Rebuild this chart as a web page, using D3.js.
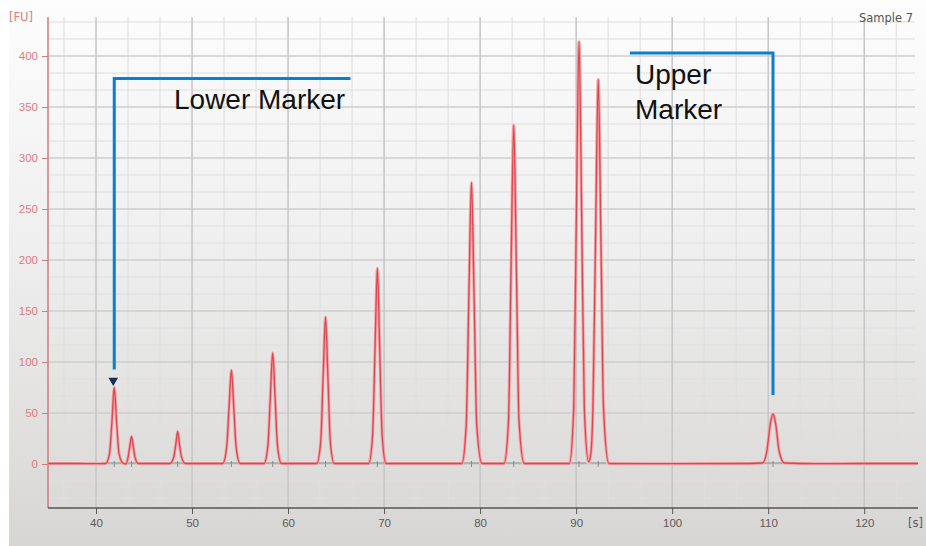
<!DOCTYPE html>
<html>
<head>
<meta charset="utf-8">
<script src="https://cdn.jsdelivr.net/npm/d3@7"></script>
<style>
  body { margin: 0; background: #fff; }
  svg { display: block; }
</style>
</head>
<body>
<div id="chart"></div>
<script>
// peaks: migration time [s] and height [FU]
const peakTimes   = [41.9, 43.7, 48.5, 54.1, 58.4, 63.9, 69.3, 79.1, 83.5, 90.3, 92.3, 110.5];
const peakHeights = [75, 27, 32, 92, 109, 144, 192, 276, 332, 414, 377, 49];

// electropherogram trace as [time, FU] points
const trace = [
  [35, 0.5], [38, 0.5], [40, 0.3], [41.0, 0.5],
  [41.4, 10], [41.65, 40], [41.9, 75], [42.15, 40], [42.4, 10], [42.8, 1],
  [43.1, 0], [43.35, 7], [43.53, 18], [43.7, 27], [43.87, 18], [44.05, 7], [44.4, 0.5],
  [46, 0.5], [47.7, 0.5], [48.1, 7], [48.32, 20], [48.5, 32], [48.68, 20], [48.9, 7], [49.3, 0.5],
  [53.2, 0.5], [53.6, 16], [53.85, 55], [54.1, 92], [54.35, 55], [54.6, 16], [55.0, 0.5],
  [57.5, 0.5], [57.9, 18], [58.15, 65], [58.4, 109], [58.65, 65], [58.9, 18], [59.3, 0.5],
  [63.0, 0.5], [63.4, 22], [63.65, 85], [63.9, 144], [64.15, 85], [64.4, 22], [64.8, 0.5],
  [68.4, 0.5], [68.8, 28], [69.05, 110], [69.3, 192], [69.55, 110], [69.8, 28], [70.2, 0.5],
  [78.1, 0.5], [78.55, 38], [78.82, 160], [79.1, 276], [79.38, 160], [79.65, 38], [80.2, 0.5],
  [82.5, 0.5], [82.95, 42], [83.22, 190], [83.5, 332], [83.78, 190], [84.05, 42], [84.6, 0.5],
  [89.3, 0.5], [89.75, 55], [90.02, 240], [90.3, 414], [90.58, 240], [90.85, 55], [91.3, 2],
  [91.5, 8], [91.75, 55], [92.02, 220], [92.3, 377], [92.58, 220], [92.85, 55], [93.4, 0.5],
  [100, 0.3], [108, 0.5], [109.4, 1], [109.85, 12], [110.2, 38], [110.5, 49], [110.8, 38], [111.15, 12], [111.7, 1],
  [115, 0.3], [120, 0.5], [125.6, 0.5]
];

const xTicks = [40, 50, 60, 70, 80, 90, 100, 110, 120];
const yTicks = [0, 50, 100, 150, 200, 250, 300, 350, 400];

const width = 926, height = 546;
const plotLeft = 48, plotRight = 918, plotTop = 15, plotBottom = 508;

const x = d3.scaleLinear().domain([35, 125.6]).range([plotLeft, plotRight]);
const y = d3.scaleLinear().domain([0, 400]).range([464, 56]);

const svg = d3.select("#chart").append("svg")
  .attr("width", width).attr("height", height)
  .style("font-family", "'DejaVu Sans', sans-serif");

// grey gradient panel
const grad = svg.append("defs").append("linearGradient")
  .attr("id", "bg").attr("x1", 0).attr("y1", 0).attr("x2", 0).attr("y2", 1);
grad.append("stop").attr("offset", "0%").attr("stop-color", "#fdfdfd");
grad.append("stop").attr("offset", "45%").attr("stop-color", "#efefef");
grad.append("stop").attr("offset", "100%").attr("stop-color", "#d7d6d4");
svg.append("rect").attr("x", 9).attr("y", 0).attr("width", width - 9).attr("height", height)
  .attr("fill", "url(#bg)");

// grid: minor lines every third of a major step
const grid = svg.append("g");
const yMinor = d3.range(-2, 27).map(i => i * 50 / 3);
const xMinor = d3.range(-1, 28).map(i => 40 + i * 10 / 3);
grid.selectAll(".ym").data(yMinor.filter(v => y(v) < plotBottom && y(v) > plotTop)).enter().append("line")
  .attr("x1", plotLeft).attr("x2", plotRight - 3).attr("y1", d => y(d)).attr("y2", d => y(d))
  .attr("stroke", "#dedede").attr("stroke-width", 1);
grid.selectAll(".xm").data(xMinor.filter(v => x(v) > plotLeft && x(v) < plotRight)).enter().append("line")
  .attr("y1", plotTop + 2).attr("y2", plotBottom).attr("x1", d => x(d)).attr("x2", d => x(d))
  .attr("stroke", "#dedede").attr("stroke-width", 1);
grid.selectAll(".yM").data(yTicks).enter().append("line")
  .attr("x1", plotLeft).attr("x2", plotRight - 3).attr("y1", d => y(d)).attr("y2", d => y(d))
  .attr("stroke", "#c6c6c6").attr("stroke-width", 1.2);
grid.selectAll(".xM").data(xTicks).enter().append("line")
  .attr("y1", plotTop + 2).attr("y2", plotBottom).attr("x1", d => x(d)).attr("x2", d => x(d))
  .attr("stroke", "#c0c0c0").attr("stroke-width", 1.2);

// y axis (red)
svg.append("line").attr("x1", plotLeft).attr("x2", plotLeft).attr("y1", plotTop + 2).attr("y2", plotBottom)
  .attr("stroke", "#cf7b80").attr("stroke-width", 1.5);
const yAx = svg.append("g").attr("transform", `translate(${plotLeft},0)`)
  .call(d3.axisLeft(y).tickValues(yTicks).tickSize(6).tickPadding(4));
yAx.select(".domain").remove();
yAx.selectAll("line").attr("stroke", "#cf7b80");
yAx.selectAll("text").attr("fill", "#e27a80").style("font-size", "11.5px");
svg.append("text").attr("x", 9).attr("y", 21).text("[FU]")
  .attr("fill", "#e27a80").style("font-size", "11.5px");

// x axis (dark grey)
const xAx = svg.append("g").attr("transform", `translate(0,${plotBottom})`)
  .call(d3.axisBottom(x).tickValues(xTicks).tickSize(6).tickPadding(5).tickSizeOuter(0));
xAx.select(".domain").attr("stroke", "#555").attr("stroke-width", 1.5)
  .attr("d", `M${plotLeft},0H${plotRight}`);
xAx.selectAll("line").attr("stroke", "#555");
xAx.selectAll("text").attr("fill", "#5a5a5a").style("font-size", "11.5px");
svg.append("text").attr("x", 908).attr("y", 527).text("[s]")
  .attr("fill", "#5a5a5a").style("font-size", "11.5px");

svg.append("text").attr("x", 913).attr("y", 22).attr("text-anchor", "end")
  .text("Sample 7").attr("fill", "#555").style("font-size", "11.5px");

// peak base markers (grey)
const base = svg.append("g").attr("stroke", "#8a8a8a").attr("stroke-width", 1);
peakTimes.forEach(t => {
  const w = t > 100 ? 1.0 : 0.8;
  base.append("line").attr("x1", x(t - w)).attr("x2", x(t + w)).attr("y1", y(0) - 1).attr("y2", y(0) - 1);
  base.append("line").attr("x1", x(t)).attr("x2", x(t)).attr("y1", y(0) - 3).attr("y2", y(0) + 3);
});

// signal trace
const line = d3.line().x(d => x(d[0])).y(d => y(d[1])).curve(d3.curveMonotoneX);
svg.append("path").datum(trace).attr("d", line)
  .attr("fill", "none").attr("stroke", "#f2a0a4").attr("stroke-width", 3);
svg.append("path").datum(trace).attr("d", line)
  .attr("fill", "none").attr("stroke", "#e0454e").attr("stroke-width", 1.3);

// lower marker triangle
const lowT = peakTimes[0], lowH = peakHeights[0];
svg.append("path")
  .attr("d", d3.symbol(d3.symbolTriangle, 40)())
  .attr("transform", `translate(${x(lowT) - 1},${y(lowH) - 7}) rotate(180)`)
  .attr("fill", "#1c2b55");

// annotation callouts
const blue = "#0a7fcf";
const upT = peakTimes[peakTimes.length - 1], upH = peakHeights[peakHeights.length - 1];
svg.append("polyline")
  .attr("points", [[x(lowT), y(lowH) - 18], [x(lowT), y(378)], [x(66.5), y(378)]].join(" "))
  .attr("fill", "none").attr("stroke", blue).attr("stroke-width", 3);
svg.append("polyline")
  .attr("points", [[x(95.6), y(403)], [x(upT), y(403)], [x(upT), y(upH) - 19]].join(" "))
  .attr("fill", "none").attr("stroke", blue).attr("stroke-width", 3);

const label = svg.append("g").attr("fill", "#111")
  .style("font-family", "'Liberation Sans', Arial, sans-serif").style("font-size", "28px");
label.append("text").attr("x", 174).attr("y", 109).text("Lower Marker");
label.append("text").attr("x", 635).attr("y", 84).text("Upper");
label.append("text").attr("x", 635).attr("y", 119).text("Marker");
</script>
</body>
</html>
